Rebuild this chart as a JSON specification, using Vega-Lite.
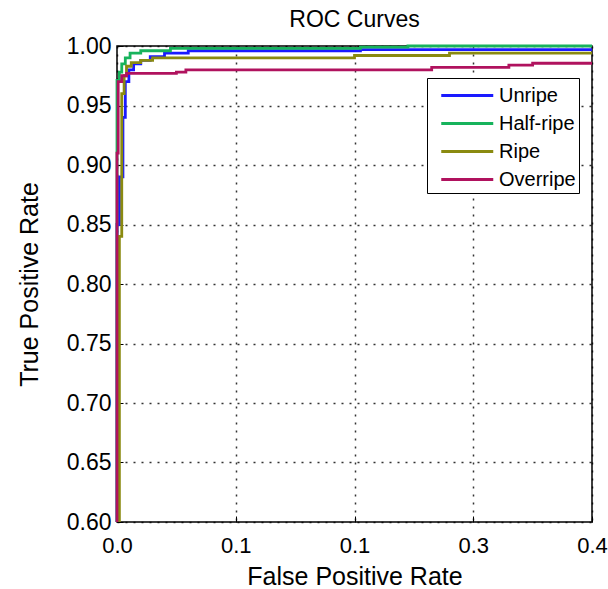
{
  "$schema": "https://vega.github.io/schema/vega-lite/v6.json",
  "width": 475,
  "height": 476,
  "autosize": "none",
  "padding": {"left": 117, "top": 46, "right": 16, "bottom": 67},
  "background": "white",
  "title": {"text": "ROC Curves", "fontSize": 23, "fontWeight": "normal", "font": "Liberation Sans", "color": "black", "offset": 3},
  "config": {
    "view": {"stroke": "black", "strokeWidth": 1.5},
    "font": "Liberation Sans"
  },
  "data": {"values": [
    {"s": "Unripe", "i": 0, "fpr": 0, "tpr": 0.6},
    {"s": "Unripe", "i": 1, "fpr": 0, "tpr": 0.85},
    {"s": "Unripe", "i": 2, "fpr": 0.002, "tpr": 0.85},
    {"s": "Unripe", "i": 3, "fpr": 0.002, "tpr": 0.89},
    {"s": "Unripe", "i": 4, "fpr": 0.005, "tpr": 0.89},
    {"s": "Unripe", "i": 5, "fpr": 0.005, "tpr": 0.94},
    {"s": "Unripe", "i": 6, "fpr": 0.007, "tpr": 0.94},
    {"s": "Unripe", "i": 7, "fpr": 0.007, "tpr": 0.97},
    {"s": "Unripe", "i": 8, "fpr": 0.010, "tpr": 0.97},
    {"s": "Unripe", "i": 9, "fpr": 0.010, "tpr": 0.980},
    {"s": "Unripe", "i": 10, "fpr": 0.014, "tpr": 0.980},
    {"s": "Unripe", "i": 11, "fpr": 0.014, "tpr": 0.985},
    {"s": "Unripe", "i": 12, "fpr": 0.020, "tpr": 0.985},
    {"s": "Unripe", "i": 13, "fpr": 0.020, "tpr": 0.988},
    {"s": "Unripe", "i": 14, "fpr": 0.028, "tpr": 0.988},
    {"s": "Unripe", "i": 15, "fpr": 0.028, "tpr": 0.991},
    {"s": "Unripe", "i": 16, "fpr": 0.040, "tpr": 0.991},
    {"s": "Unripe", "i": 17, "fpr": 0.040, "tpr": 0.994},
    {"s": "Unripe", "i": 18, "fpr": 0.060, "tpr": 0.994},
    {"s": "Unripe", "i": 19, "fpr": 0.060, "tpr": 0.996},
    {"s": "Unripe", "i": 20, "fpr": 0.205, "tpr": 0.996},
    {"s": "Unripe", "i": 21, "fpr": 0.205, "tpr": 0.997},
    {"s": "Unripe", "i": 22, "fpr": 0.4, "tpr": 0.997},

    {"s": "Half-ripe", "i": 0, "fpr": 0, "tpr": 0.6},
    {"s": "Half-ripe", "i": 1, "fpr": 0, "tpr": 0.971},
    {"s": "Half-ripe", "i": 2, "fpr": 0.002, "tpr": 0.971},
    {"s": "Half-ripe", "i": 3, "fpr": 0.002, "tpr": 0.978},
    {"s": "Half-ripe", "i": 4, "fpr": 0.004, "tpr": 0.978},
    {"s": "Half-ripe", "i": 5, "fpr": 0.004, "tpr": 0.985},
    {"s": "Half-ripe", "i": 6, "fpr": 0.007, "tpr": 0.985},
    {"s": "Half-ripe", "i": 7, "fpr": 0.007, "tpr": 0.990},
    {"s": "Half-ripe", "i": 8, "fpr": 0.011, "tpr": 0.990},
    {"s": "Half-ripe", "i": 9, "fpr": 0.011, "tpr": 0.994},
    {"s": "Half-ripe", "i": 10, "fpr": 0.020, "tpr": 0.994},
    {"s": "Half-ripe", "i": 11, "fpr": 0.020, "tpr": 0.996},
    {"s": "Half-ripe", "i": 12, "fpr": 0.045, "tpr": 0.996},
    {"s": "Half-ripe", "i": 13, "fpr": 0.045, "tpr": 0.998},
    {"s": "Half-ripe", "i": 14, "fpr": 0.205, "tpr": 0.998},
    {"s": "Half-ripe", "i": 15, "fpr": 0.205, "tpr": 0.999},
    {"s": "Half-ripe", "i": 16, "fpr": 0.245, "tpr": 0.999},
    {"s": "Half-ripe", "i": 17, "fpr": 0.245, "tpr": 1.0},
    {"s": "Half-ripe", "i": 18, "fpr": 0.4, "tpr": 1.0},

    {"s": "Ripe", "i": 0, "fpr": 0.002, "tpr": 0.6},
    {"s": "Ripe", "i": 1, "fpr": 0.002, "tpr": 0.84},
    {"s": "Ripe", "i": 2, "fpr": 0.004, "tpr": 0.84},
    {"s": "Ripe", "i": 3, "fpr": 0.004, "tpr": 0.96},
    {"s": "Ripe", "i": 4, "fpr": 0.006, "tpr": 0.96},
    {"s": "Ripe", "i": 5, "fpr": 0.006, "tpr": 0.975},
    {"s": "Ripe", "i": 6, "fpr": 0.008, "tpr": 0.975},
    {"s": "Ripe", "i": 7, "fpr": 0.008, "tpr": 0.983},
    {"s": "Ripe", "i": 8, "fpr": 0.012, "tpr": 0.983},
    {"s": "Ripe", "i": 9, "fpr": 0.012, "tpr": 0.986},
    {"s": "Ripe", "i": 10, "fpr": 0.020, "tpr": 0.986},
    {"s": "Ripe", "i": 11, "fpr": 0.020, "tpr": 0.988},
    {"s": "Ripe", "i": 12, "fpr": 0.030, "tpr": 0.988},
    {"s": "Ripe", "i": 13, "fpr": 0.030, "tpr": 0.990},
    {"s": "Ripe", "i": 14, "fpr": 0.200, "tpr": 0.990},
    {"s": "Ripe", "i": 15, "fpr": 0.200, "tpr": 0.992},
    {"s": "Ripe", "i": 16, "fpr": 0.280, "tpr": 0.992},
    {"s": "Ripe", "i": 17, "fpr": 0.280, "tpr": 0.994},
    {"s": "Ripe", "i": 18, "fpr": 0.4, "tpr": 0.994},

    {"s": "Overripe", "i": 0, "fpr": 0, "tpr": 0.6},
    {"s": "Overripe", "i": 1, "fpr": 0, "tpr": 0.91},
    {"s": "Overripe", "i": 2, "fpr": 0.001, "tpr": 0.91},
    {"s": "Overripe", "i": 3, "fpr": 0.001, "tpr": 0.97},
    {"s": "Overripe", "i": 4, "fpr": 0.004, "tpr": 0.97},
    {"s": "Overripe", "i": 5, "fpr": 0.004, "tpr": 0.975},
    {"s": "Overripe", "i": 6, "fpr": 0.008, "tpr": 0.975},
    {"s": "Overripe", "i": 7, "fpr": 0.008, "tpr": 0.977},
    {"s": "Overripe", "i": 8, "fpr": 0.050, "tpr": 0.977},
    {"s": "Overripe", "i": 9, "fpr": 0.050, "tpr": 0.978},
    {"s": "Overripe", "i": 10, "fpr": 0.058, "tpr": 0.978},
    {"s": "Overripe", "i": 11, "fpr": 0.058, "tpr": 0.980},
    {"s": "Overripe", "i": 12, "fpr": 0.265, "tpr": 0.980},
    {"s": "Overripe", "i": 13, "fpr": 0.265, "tpr": 0.982},
    {"s": "Overripe", "i": 14, "fpr": 0.330, "tpr": 0.982},
    {"s": "Overripe", "i": 15, "fpr": 0.330, "tpr": 0.984},
    {"s": "Overripe", "i": 16, "fpr": 0.350, "tpr": 0.984},
    {"s": "Overripe", "i": 17, "fpr": 0.350, "tpr": 0.9855},
    {"s": "Overripe", "i": 18, "fpr": 0.4, "tpr": 0.9855}
  ]},
  "mark": {"type": "line", "strokeWidth": 2.8, "clip": false},
  "encoding": {
    "x": {
      "field": "fpr", "type": "quantitative",
      "scale": {"domain": [0, 0.4], "nice": false, "zero": false},
      "axis": {
        "title": "False Positive Rate", "titleFontSize": 25, "titleFontWeight": "normal", "titleColor": "black", "titlePadding": 8,
        "values": [0, 0.1, 0.2, 0.3, 0.4],
        "labelExpr": "datum.value == 0.2 ? '0.1' : format(datum.value, '.1f')",
        "labelFontSize": 22, "labelColor": "black", "labelPadding": 19, "labelFlush": false,
        "tickSize": -6, "tickColor": "black", "domain": false,
        "grid": true, "gridDash": [2, 6], "gridColor": "black", "gridOpacity": 0.8, "gridWidth": 1.5
      }
    },
    "y": {
      "field": "tpr", "type": "quantitative",
      "scale": {"domain": [0.6, 1.0], "nice": false, "zero": false},
      "axis": {
        "title": "True Positive Rate", "titleFontSize": 25, "titleFontWeight": "normal", "titleColor": "black", "titlePadding": 24,
        "values": [0.6, 0.65, 0.7, 0.75, 0.8, 0.85, 0.9, 0.95, 1.0],
        "format": ".2f",
        "labelFontSize": 23, "labelColor": "black", "labelPadding": 12, "labelFlush": false,
        "tickSize": -6, "tickColor": "black", "domain": false,
        "grid": true, "gridDash": [2, 6], "gridColor": "black", "gridOpacity": 0.8, "gridWidth": 1.5
      }
    },
    "color": {
      "field": "s", "type": "nominal",
      "scale": {"domain": ["Unripe", "Half-ripe", "Ripe", "Overripe"], "range": ["#1a1aff", "#17b35c", "#8a8a10", "#b0125e"]},
      "legend": {
        "title": null, "orient": "none", "legendX": 310, "legendY": 32,
        "symbolType": "M-0.25,0H3.75", "symbolSize": 676, "symbolStrokeWidth": 3,
        "labelFontSize": 20, "labelColor": "black", "labelOffset": 40,
        "labelExpr": "datum.label + '\u00a0\u00a0\u00a0'",
        "rowPadding": 3, "padding": 3, "strokeColor": "black", "fillColor": "white",
        "labelLimit": 200
      }
    },
    "order": {"field": "i", "type": "quantitative"}
  }
}
